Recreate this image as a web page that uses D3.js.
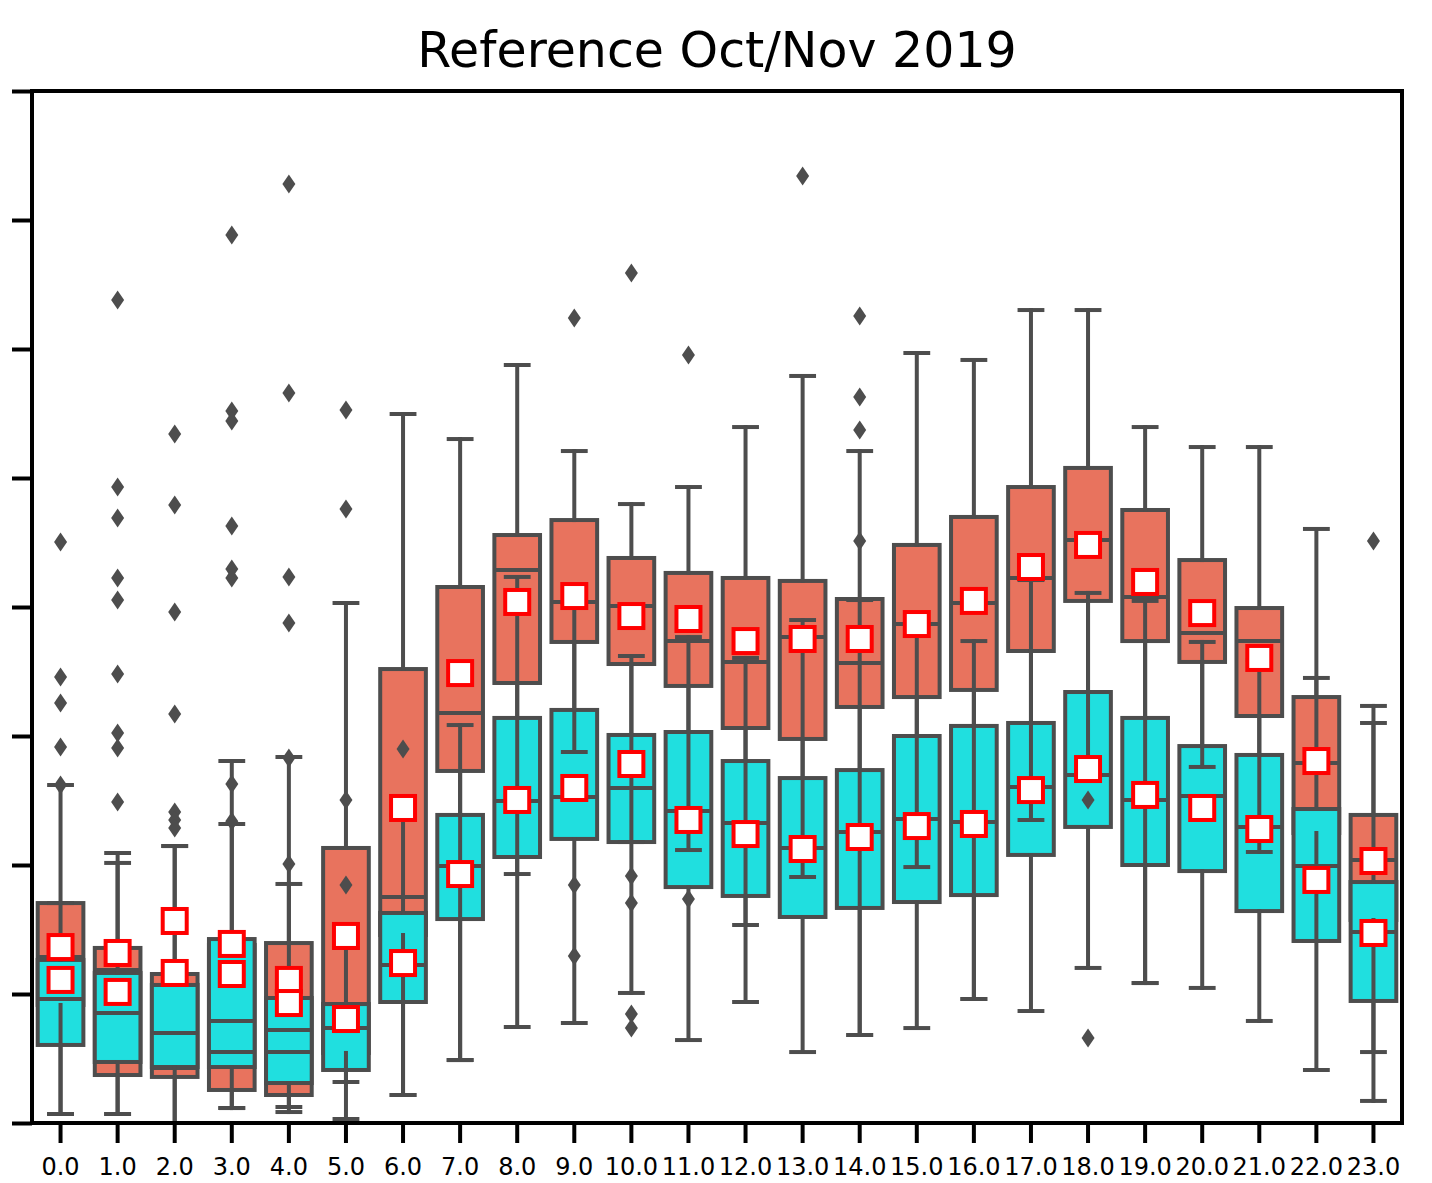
<!DOCTYPE html>
<html>

<head>
    <meta charset="UTF-8">
    <script src="https://d3js.org/d3.v7.min.js"></script>
    <style>
        body { margin: 0; background: #fff; }
        text { font-family: "DejaVu Sans", sans-serif; }
    </style>
</head>

<body>
    <svg></svg>

    <script>
        let width = 1432, height = 1183;

        // hours of the day
        const hours = [0, 1, 2, 3, 4, 5, 6, 7, 8, 9, 10, 11, 12, 13, 14, 15, 16, 17, 18, 19, 20, 21, 22, 23];
        const yTicks = [0, 10, 20, 30, 40, 50, 60, 70, 80];

        // first series (red)
        const redQ1 = [9.15, 3.72, 3.57, 2.56, 2.17, 5.43, 14.57, 27.29, 34.11, 37.29, 35.58, 33.88, 30.62, 29.77, 32.25, 33.02, 33.57, 36.59, 40.47, 37.36, 35.74, 31.55, 22.48, 15.74];
        const redMed = [12.87, 11.86, 4.26, 5.50, 5.50, 9.22, 17.52, 31.78, 42.87, 40.39, 40.08, 37.36, 35.74, 37.67, 35.66, 38.68, 40.31, 42.25, 45.19, 40.78, 37.98, 37.36, 27.91, 20.39];
        const redQ3 = [17.05, 13.57, 11.55, 13.80, 13.95, 21.32, 35.19, 41.55, 45.58, 46.74, 43.80, 42.64, 42.25, 42.02, 40.62, 44.81, 46.98, 49.30, 50.78, 47.52, 43.64, 39.92, 33.02, 23.88];
        const redLo = [0.70, 0.70, 0.0, 1.16, 0.85, 3.18, 2.17, 4.88, 7.44, 28.76, 21.78, 21.16, 15.35, 19.07, 6.82, 19.84, 9.61, 23.49, 27.36, 10.85, 27.60, 21.01, 4.11, 5.50];
        const redHi = [17.05, 20.93, 21.47, 28.06, 28.37, 40.31, 54.96, 53.02, 58.76, 52.09, 47.98, 49.30, 53.95, 57.91, 52.09, 59.69, 59.15, 63.02, 63.02, 53.95, 52.40, 52.40, 46.05, 32.33];
        const redMean = [13.64, 13.18, 15.66, 13.88, 11.09, 14.50, 24.42, 34.88, 40.39, 40.85, 39.30, 39.07, 37.36, 37.52, 37.52, 38.68, 40.47, 43.10, 44.81, 41.94, 39.53, 36.05, 28.06, 20.31];
        const redOut = [
            [45.04, 34.57, 32.56, 29.15, 26.20],
            [63.80, 49.30, 46.90, 42.25, 40.54, 34.81, 30.23, 29.07, 24.88],
            [53.41, 47.91, 39.61, 31.71, 24.11, 23.49, 22.87],
            [68.84, 55.19, 54.42, 46.28, 42.95, 42.25],
            [72.79, 56.59, 42.33, 38.76],
            [55.27, 47.60],
            [], [], [],
            [62.40, 18.45, 12.95],
            [65.89, 19.15, 17.05],
            [59.53, 17.36],
            [],
            [73.41],
            [62.56, 56.28, 53.72],
            [], [], [],
            [25.04],
            [], [], [], [],
            [45.12]
        ];

        // second series (cyan)
        const cyanQ1 = [6.05, 4.73, 4.34, 4.34, 3.10, 4.11, 9.38, 15.81, 20.62, 22.02, 21.78, 18.29, 17.60, 15.97, 16.67, 17.13, 17.67, 20.78, 22.95, 20.00, 19.53, 16.43, 14.11, 9.46];
        const cyanMed = [9.61, 8.53, 6.98, 7.91, 7.21, 7.36, 12.25, 19.92, 24.96, 25.27, 25.97, 24.19, 23.26, 21.32, 22.56, 23.57, 23.33, 26.05, 26.98, 25.04, 25.35, 22.95, 19.92, 14.81];
        const cyanQ3 = [12.64, 11.63, 10.70, 14.26, 9.69, 9.22, 16.28, 23.88, 31.40, 32.02, 30.08, 30.31, 28.06, 26.74, 27.36, 30.00, 30.78, 31.01, 33.41, 31.40, 29.22, 28.53, 24.34, 18.68];
        const cyanLo = [0.70, 0.70, 0.0, 1.16, 1.24, 0.31, 2.17, 4.88, 19.30, 7.75, 10.08, 6.43, 9.38, 5.50, 6.82, 7.36, 9.61, 8.68, 12.02, 10.85, 10.47, 7.91, 14.11, 1.71];
        const cyanHi = [26.20, 20.16, 21.47, 23.18, 18.53, 13.57, 23.88, 30.85, 42.33, 40.31, 36.20, 37.67, 36.05, 38.99, 40.54, 38.60, 37.36, 42.09, 41.09, 40.47, 37.29, 35.89, 34.50, 31.01];
        const cyanMean = [11.09, 10.16, 11.63, 11.55, 9.30, 8.06, 12.40, 19.30, 25.04, 25.97, 27.83, 23.49, 22.40, 21.24, 22.17, 23.02, 23.18, 25.81, 27.44, 25.43, 24.42, 22.79, 18.84, 14.73];
        const cyanOut = [
            [], [], [],
            [26.28, 23.40],
            [28.29, 20.08],
            [25.04, 18.45],
            [28.99],
            [], [], [],
            [8.45, 7.36],
            [], [], [],
            [45.12],
            [], [], [],
            [6.59],
            [], [], [], [], []
        ];

        const series = [
            { fill: "#e8735e", q1: redQ1, med: redMed, q3: redQ3, lo: redLo, hi: redHi, mean: redMean, out: redOut },
            { fill: "#20dfdf", q1: cyanQ1, med: cyanMed, q3: cyanQ3, lo: cyanLo, hi: cyanHi, mean: cyanMean, out: cyanOut }
        ];

        const lineColor = "#4d4d4d";
        const mLeft = 32, mRight = 1402, mTop = 91, mBottom = 1123;

        let svg = d3.select("svg")
            .attr("width", width)
            .attr("height", height)
            .style("background", "#fff");

        let x = d3.scaleBand()
            .domain(hours)
            .range([mLeft, mRight])
            .padding(0);

        let y = d3.scaleLinear()
            .domain([0, 80])
            .range([mBottom, mTop]);

        const boxW = x.bandwidth() * 0.8;
        const capW = boxW / 2;
        const cx = i => x(hours[i]) + x.bandwidth() / 2;

        let plot = svg.append("g");

        // boxes (patches, below every line)
        series.forEach(s => {
            plot.append("g")
                .selectAll("rect")
                .data(hours)
                .enter()
                .append("rect")
                .attr("x", (d, i) => cx(i) - boxW / 2)
                .attr("y", (d, i) => y(s.q3[i]))
                .attr("width", boxW)
                .attr("height", (d, i) => y(s.q1[i]) - y(s.q3[i]))
                .attr("fill", s.fill)
                .attr("stroke", lineColor)
                .attr("stroke-width", 4);
        });

        // whiskers, caps, medians, fliers
        series.forEach(s => {
            let g = plot.append("g")
                .attr("stroke", lineColor)
                .attr("stroke-width", 4)
                .attr("stroke-linecap", "square");

            hours.forEach((h, i) => {
                let c = cx(i);
                g.append("line").attr("x1", c).attr("x2", c)
                    .attr("y1", y(s.q1[i])).attr("y2", y(s.lo[i]));
                g.append("line").attr("x1", c).attr("x2", c)
                    .attr("y1", y(s.q3[i])).attr("y2", y(s.hi[i]));
                g.append("line").attr("x1", c - capW / 2).attr("x2", c + capW / 2)
                    .attr("y1", y(s.lo[i])).attr("y2", y(s.lo[i]));
                g.append("line").attr("x1", c - capW / 2).attr("x2", c + capW / 2)
                    .attr("y1", y(s.hi[i])).attr("y2", y(s.hi[i]));
                g.append("line").attr("x1", c - boxW / 2).attr("x2", c + boxW / 2)
                    .attr("y1", y(s.med[i])).attr("y2", y(s.med[i]))
                    .attr("stroke-linecap", "butt");
            });

            let fliers = [];
            s.out.forEach((vals, i) => vals.forEach(v => fliers.push({ i: i, v: v })));
            plot.append("g")
                .selectAll("path")
                .data(fliers)
                .enter()
                .append("path")
                .attr("d", "M0,-9.5L6.5,0L0,9.5L-6.5,0Z")
                .attr("transform", d => "translate(" + cx(d.i) + "," + y(d.v) + ")")
                .attr("fill", lineColor);
        });

        // means
        series.forEach(s => {
            plot.append("g")
                .selectAll("rect")
                .data(hours)
                .enter()
                .append("rect")
                .attr("x", (d, i) => cx(i) - 12)
                .attr("y", (d, i) => y(s.mean[i]) - 12)
                .attr("width", 24)
                .attr("height", 24)
                .attr("fill", "#fff")
                .attr("stroke", "#ff0000")
                .attr("stroke-width", 4);
        });

        // axes
        svg.append("g")
            .attr("transform", "translate(" + mLeft + ",0)")
            .call(d3.axisLeft(y).tickValues(yTicks).tickSize(20).tickSizeOuter(0).tickFormat(""))
            .call(g => g.select(".domain").remove())
            .call(g => g.selectAll("line").attr("stroke", "#000").attr("stroke-width", 4));

        svg.append("g")
            .attr("transform", "translate(0," + mBottom + ")")
            .call(d3.axisBottom(x).tickSize(20).tickSizeOuter(0).tickPadding(15).tickFormat(d => d.toFixed(1)))
            .call(g => g.select(".domain").remove())
            .call(g => g.selectAll("line").attr("stroke", "#000").attr("stroke-width", 4))
            .call(g => g.selectAll("text")
                .attr("fill", "#000")
                .style("font-size", "24px")
                .style("font-family", "DejaVu Sans"));

        // frame
        svg.append("rect")
            .attr("x", mLeft)
            .attr("y", mTop)
            .attr("width", mRight - mLeft)
            .attr("height", mBottom - mTop)
            .attr("fill", "none")
            .attr("stroke", "#000")
            .attr("stroke-width", 4);

        svg.append("text")
            .attr("x", 717)
            .attr("y", 67)
            .attr("text-anchor", "middle")
            .style("font-size", "49px")
            .attr("fill", "#000")
            .text("Reference Oct/Nov 2019");
    </script>

</body>

</html>
